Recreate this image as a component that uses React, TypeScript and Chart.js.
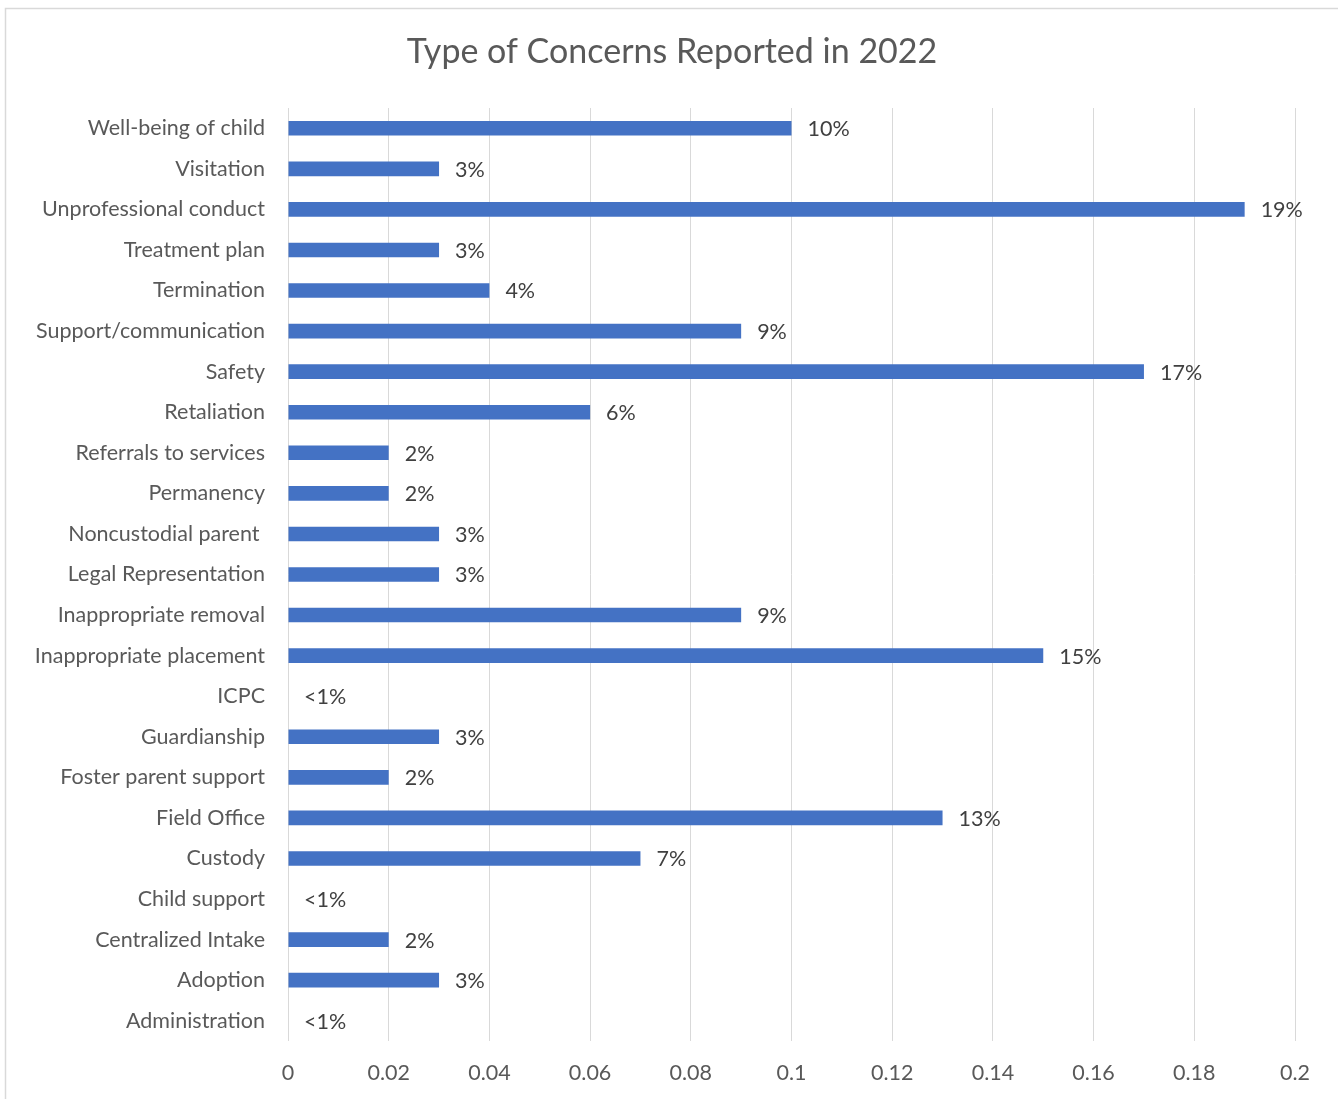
import React, { useEffect, useRef } from "react";
import { Chart, registerables } from "chart.js";

Chart.register(...registerables);

const categories = [
  "Well-being of child",
  "Visitation",
  "Unprofessional conduct",
  "Treatment plan",
  "Termination",
  "Support/communication",
  "Safety",
  "Retaliation",
  "Referrals to services",
  "Permanency",
  "Noncustodial parent ",
  "Legal Representation",
  "Inappropriate removal",
  "Inappropriate placement",
  "ICPC",
  "Guardianship",
  "Foster parent support",
  "Field Office",
  "Custody",
  "Child support",
  "Centralized Intake",
  "Adoption",
  "Administration",
];

const values = [
  0.1, 0.03, 0.19, 0.03, 0.04, 0.09, 0.17, 0.06, 0.02, 0.02, 0.03, 0.03, 0.09,
  0.15, 0, 0.03, 0.02, 0.13, 0.07, 0, 0.02, 0.03, 0,
];

const dataLabels = [
  "10%", "3%", "19%", "3%", "4%", "9%", "17%", "6%", "2%", "2%", "3%", "3%",
  "9%", "15%", "<1%", "3%", "2%", "13%", "7%", "<1%", "2%", "3%", "<1%",
];

const xTickLabels = [
  "0", "0.02", "0.04", "0.06", "0.08", "0.1", "0.12", "0.14", "0.16", "0.18", "0.2",
];

const chartTitle = "Type of Concerns Reported in 2022";

const FONT = "Lato, 'Open Sans', sans-serif";

export default function App() {
  const ref = useRef<HTMLCanvasElement | null>(null);

  useEffect(() => {
    if (!ref.current) return;

    const decor = {
      id: "decor",
      beforeDraw(chart: any) {
        const ctx = chart.ctx;
        ctx.save();
        ctx.fillStyle = "#ffffff";
        ctx.fillRect(0, 0, chart.width, chart.height);
        ctx.strokeStyle = "#d9d9d9";
        ctx.lineWidth = 1.5;
        ctx.strokeRect(5.5, 8.5, 1345, 1100);
        ctx.fillStyle = "#595959";
        ctx.font = `34px ${FONT}`;
        ctx.textAlign = "center";
        ctx.textBaseline = "middle";
        ctx.fillText(chartTitle, 672, 52);
        ctx.restore();
      },
      afterDatasetsDraw(chart: any) {
        const ctx = chart.ctx;
        const meta = chart.getDatasetMeta(0);
        ctx.save();
        ctx.fillStyle = "#404040";
        ctx.font = `21.5px ${FONT}`;
        ctx.textAlign = "left";
        ctx.textBaseline = "middle";
        meta.data.forEach((bar: any, i: number) => {
          ctx.fillText(dataLabels[i], bar.x + 16, bar.y + 1);
        });
        ctx.restore();
      },
    };

    const chart = new Chart(ref.current, {
      type: "bar",
      data: {
        labels: categories,
        datasets: [
          {
            data: values,
            backgroundColor: "#4472c4",
            borderWidth: 0,
            barPercentage: 1,
            categoryPercentage: 0.36,
          },
        ],
      },
      options: {
        indexAxis: "y",
        responsive: false,
        animation: false,
        layout: { padding: { top: 108, right: 43, bottom: 0, left: 0 } },
        plugins: {
          legend: { display: false },
          title: { display: false },
          tooltip: { enabled: false },
        },
        scales: {
          x: {
            min: 0,
            max: 0.2,
            grid: { color: "#d9d9d9", drawTicks: false, lineWidth: 1 },
            border: { display: false },
            ticks: {
              stepSize: 0.02,
              padding: 19,
              color: "#595959",
              font: { family: FONT, size: 21.5 },
              callback: (_v: any, i: number) => xTickLabels[i],
            },
            afterFit: (s: any) => {
              s.height = 58;
            },
          },
          y: {
            grid: { display: false, drawTicks: false },
            border: { display: false },
            ticks: {
              autoSkip: false,
              padding: 23,
              color: "#595959",
              font: { family: FONT, size: 21.5 },
            },
            afterFit: (s: any) => {
              s.width = 288;
            },
          },
        },
      },
      plugins: [decor],
    });

    return () => chart.destroy();
  }, []);

  return (
    <canvas
      ref={ref}
      width={1338}
      height={1099}
      style={{ position: "absolute", left: 0, top: 0, display: "block" }}
    />
  );
}
